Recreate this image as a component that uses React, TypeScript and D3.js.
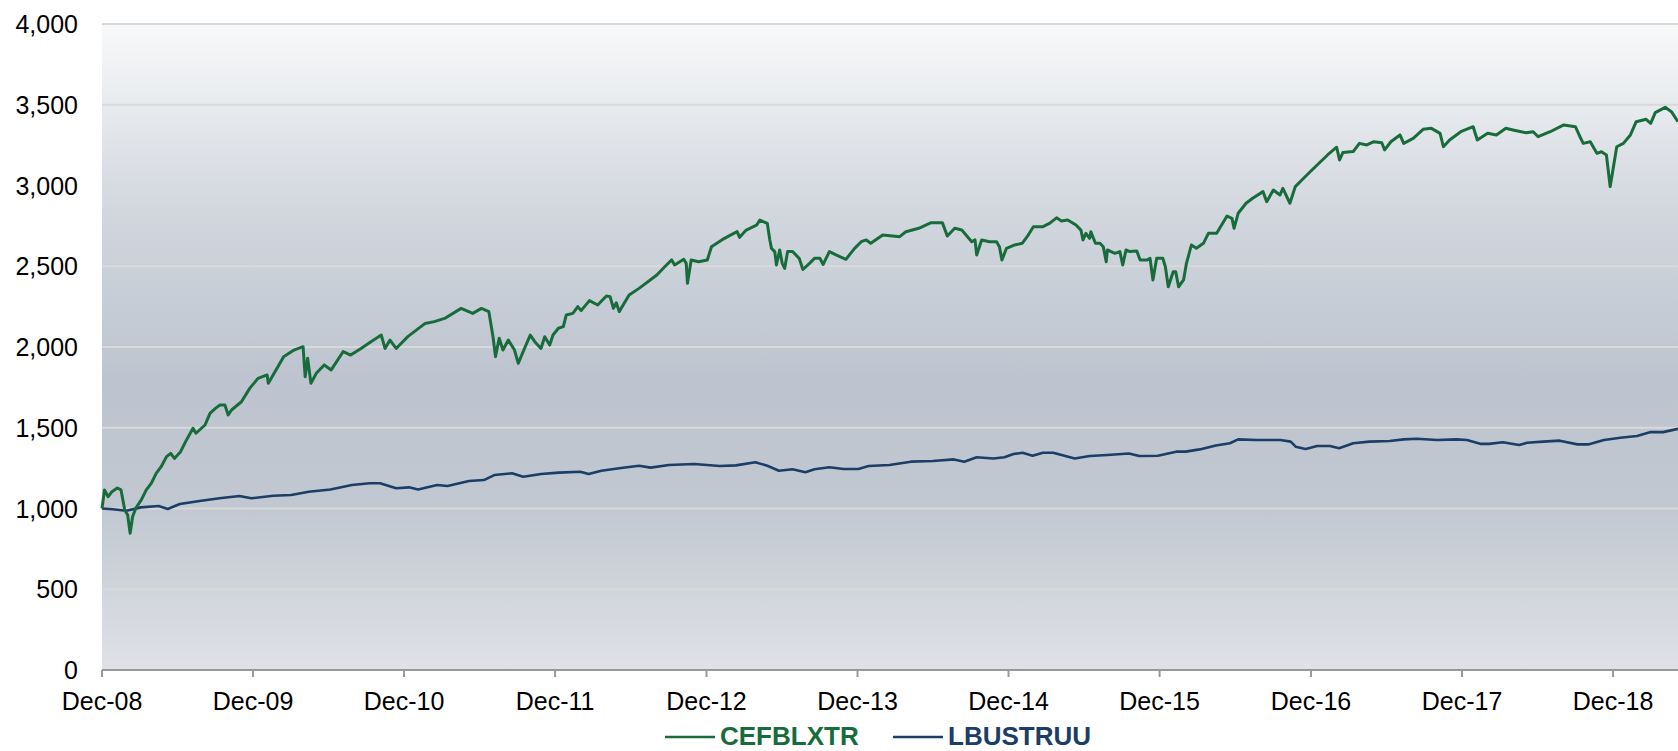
import React, { useEffect, useRef } from "react";
import * as d3 from "d3";

// CEFBLXTR (closed-end fund index), rebased to 1,000 at Dec-08
const cefDates = [
  "2008-12-31", "2009-01-06", "2009-01-15", "2009-01-24", "2009-02-06", "2009-02-15", "2009-02-24",
  "2009-03-03", "2009-03-09", "2009-03-15", "2009-03-23", "2009-04-05", "2009-04-17", "2009-04-29",
  "2009-05-11", "2009-05-23", "2009-06-05", "2009-06-15", "2009-06-24", "2009-07-09", "2009-07-21",
  "2009-08-08", "2009-08-15", "2009-09-06", "2009-09-18", "2009-10-01", "2009-10-12", "2009-10-24",
  "2009-11-01", "2009-11-09", "2009-12-03", "2009-12-23", "2010-01-12", "2010-02-03", "2010-02-06",
  "2010-02-27", "2010-03-15", "2010-04-09", "2010-05-01", "2010-05-06", "2010-05-12", "2010-05-20",
  "2010-06-02", "2010-06-21", "2010-07-08", "2010-08-06", "2010-08-24", "2010-09-18", "2010-10-12",
  "2010-11-06", "2010-11-15", "2010-11-27", "2010-12-12", "2011-01-09", "2011-02-20", "2011-03-14",
  "2011-04-08", "2011-05-18", "2011-06-15", "2011-07-06", "2011-07-24", "2011-08-03", "2011-08-09",
  "2011-08-18", "2011-08-27", "2011-09-09", "2011-09-24", "2011-10-03", "2011-10-15", "2011-11-01",
  "2011-11-12", "2011-11-27", "2011-12-06", "2011-12-18", "2011-12-26", "2012-01-08", "2012-01-20",
  "2012-01-27", "2012-02-12", "2012-02-24", "2012-03-03", "2012-03-23", "2012-04-12", "2012-05-03",
  "2012-05-12", "2012-05-20", "2012-05-27", "2012-06-03", "2012-06-27", "2012-07-21", "2012-09-02",
  "2012-09-21", "2012-10-08", "2012-10-15", "2012-11-06", "2012-11-12", "2012-11-15", "2012-11-24",
  "2012-12-12", "2013-01-02", "2013-01-12", "2013-02-06", "2013-02-27", "2013-03-15", "2013-03-21",
  "2013-04-06", "2013-05-01", "2013-05-09", "2013-05-27", "2013-06-02", "2013-06-06", "2013-06-14",
  "2013-06-18", "2013-06-26", "2013-07-02", "2013-07-08", "2013-07-15", "2013-07-27", "2013-08-12",
  "2013-08-21", "2013-09-06", "2013-09-18", "2013-10-01", "2013-10-09", "2013-10-24", "2013-11-09",
  "2013-12-03", "2013-12-24", "2014-01-09", "2014-01-21", "2014-02-01", "2014-03-02", "2014-04-12",
  "2014-04-27", "2014-05-28", "2014-06-27", "2014-07-24", "2014-08-05", "2014-08-23", "2014-09-09",
  "2014-10-03", "2014-10-11", "2014-10-15", "2014-10-27", "2014-11-15", "2014-12-02", "2014-12-09",
  "2014-12-15", "2014-12-26", "2015-01-15", "2015-02-02", "2015-02-14", "2015-03-01", "2015-03-24",
  "2015-04-09", "2015-04-26", "2015-05-08", "2015-05-23", "2015-06-12", "2015-06-24", "2015-06-29",
  "2015-07-06", "2015-07-15", "2015-07-18", "2015-07-29", "2015-08-09", "2015-08-17", "2015-08-24",
  "2015-08-27", "2015-09-14", "2015-09-26", "2015-10-03", "2015-10-11", "2015-10-20", "2015-11-06",
  "2015-11-14", "2015-12-01", "2015-12-08", "2015-12-15", "2015-12-24", "2016-01-08", "2016-01-14",
  "2016-01-21", "2016-02-02", "2016-02-08", "2016-02-15", "2016-02-27", "2016-03-05", "2016-03-17",
  "2016-03-29", "2016-04-15", "2016-04-27", "2016-05-17", "2016-06-11", "2016-06-23", "2016-06-28",
  "2016-07-08", "2016-07-27", "2016-08-12", "2016-09-06", "2016-09-15", "2016-10-01", "2016-10-17",
  "2016-10-24", "2016-11-10", "2016-11-23", "2016-12-09", "2016-12-29", "2017-01-23", "2017-02-09",
  "2017-03-03", "2017-03-10", "2017-03-18", "2017-04-12", "2017-04-27", "2017-05-15", "2017-06-01",
  "2017-06-20", "2017-06-27", "2017-07-12", "2017-08-03", "2017-08-12", "2017-09-04", "2017-09-28",
  "2017-10-18", "2017-11-08", "2017-11-16", "2017-12-01", "2017-12-28", "2018-01-27", "2018-02-06",
  "2018-03-03", "2018-03-24", "2018-04-16", "2018-05-03", "2018-06-04", "2018-06-21", "2018-07-03",
  "2018-08-01", "2018-09-03", "2018-10-01", "2018-10-12", "2018-10-20", "2018-11-06", "2018-11-22",
  "2018-12-03", "2018-12-15", "2018-12-24", "2019-01-09", "2019-01-25", "2019-02-11", "2019-02-25",
  "2019-03-21", "2019-04-01", "2019-04-12", "2019-05-06", "2019-05-21", "2019-06-06",
];
const cefValues = [
  1000, 1115, 1073, 1104, 1127, 1115, 991,
  960, 847, 950, 1003, 1053, 1115, 1156,
  1218, 1259, 1321, 1341, 1310, 1352, 1414,
  1497, 1466, 1517, 1589, 1620, 1641, 1641,
  1579, 1610, 1661, 1744, 1806, 1827, 1775,
  1868, 1940, 1981, 2002, 1816, 1930, 1775,
  1837, 1889, 1858, 1972, 1950, 1991, 2033,
  2074, 1991, 2043, 1991, 2064, 2146, 2157,
  2177, 2239, 2208, 2239, 2219, 2064, 1940,
  2054, 1981, 2043, 1981, 1899, 1972, 2074,
  2033, 1991, 2064, 2012, 2074, 2116, 2126,
  2198, 2208, 2250, 2225, 2287, 2260, 2316,
  2312, 2239, 2274, 2219, 2322, 2363, 2446,
  2497, 2539, 2508, 2543, 2518, 2394, 2539,
  2528, 2539, 2621, 2663, 2693, 2714, 2679,
  2724, 2755, 2786, 2765, 2663, 2611, 2591,
  2508, 2601, 2518, 2487, 2591, 2591, 2549,
  2480, 2518, 2549, 2549, 2511, 2591, 2570,
  2543, 2611, 2652, 2663, 2642, 2693, 2683,
  2714, 2735, 2770, 2770, 2687, 2735, 2724,
  2652, 2663, 2570, 2663, 2652, 2652, 2621,
  2539, 2611, 2632, 2642, 2683, 2745, 2745,
  2765, 2800, 2780, 2786, 2755, 2724, 2663,
  2704, 2673, 2714, 2642, 2642, 2621, 2528,
  2601, 2580, 2591, 2508, 2601, 2591, 2594,
  2539, 2539, 2549, 2415, 2549, 2549, 2497,
  2373, 2466, 2466, 2373, 2415, 2518, 2632,
  2611, 2642, 2704, 2704, 2811, 2797, 2735,
  2828, 2890, 2921, 2962, 2900, 2972, 2941,
  2982, 2890, 2993, 3034, 3085, 3147, 3189,
  3237, 3158, 3204, 3210, 3261, 3251, 3271,
  3265, 3220, 3271, 3313, 3261, 3292, 3348,
  3354, 3323, 3240, 3282, 3333, 3364, 3282,
  3323, 3313, 3354, 3344, 3327, 3333, 3302,
  3333, 3375, 3364, 3302, 3261, 3271, 3199,
  3209, 3189, 2993, 3240, 3261, 3313, 3395,
  3410, 3385, 3451, 3484, 3457, 3395,
];

// LBUSTRUU (US aggregate bond index), rebased to 1,000 at Dec-08
const lbuDates = [
  "2008-12-31", "2009-01-26", "2009-02-28", "2009-04-04", "2009-05-17", "2009-06-08", "2009-07-07",
  "2009-08-28", "2009-10-11", "2009-11-28", "2009-12-27", "2010-02-18", "2010-04-02", "2010-05-15",
  "2010-07-06", "2010-08-27", "2010-10-09", "2010-11-03", "2010-12-12", "2011-01-12", "2011-02-03",
  "2011-03-21", "2011-04-15", "2011-06-06", "2011-07-12", "2011-08-06", "2011-09-18", "2011-10-15",
  "2011-11-27", "2012-01-09", "2012-03-01", "2012-03-21", "2012-04-21", "2012-06-03", "2012-07-21",
  "2012-08-18", "2012-10-01", "2012-12-01", "2013-02-01", "2013-03-12", "2013-04-28", "2013-05-27",
  "2013-06-24", "2013-07-27", "2013-08-27", "2013-09-18", "2013-10-24", "2013-11-27", "2014-01-02",
  "2014-01-27", "2014-03-18", "2014-05-09", "2014-07-01", "2014-08-21", "2014-09-15", "2014-10-15",
  "2014-11-24", "2014-12-21", "2015-01-12", "2015-02-03", "2015-02-27", "2015-03-24", "2015-04-18",
  "2015-05-15", "2015-06-09", "2015-07-15", "2015-08-27", "2015-10-18", "2015-11-12", "2015-12-27",
  "2016-02-09", "2016-03-03", "2016-04-06", "2016-05-15", "2016-06-18", "2016-07-08", "2016-08-21",
  "2016-09-24", "2016-10-18", "2016-11-12", "2016-11-24", "2016-12-18", "2017-01-15", "2017-02-15",
  "2017-03-09", "2017-04-12", "2017-05-21", "2017-07-09", "2017-08-12", "2017-09-12", "2017-11-01",
  "2017-12-18", "2018-01-12", "2018-02-15", "2018-03-06", "2018-04-09", "2018-05-18", "2018-06-06",
  "2018-07-15", "2018-08-24", "2018-10-06", "2018-11-01", "2018-12-09", "2019-01-18", "2019-02-27",
  "2019-04-01", "2019-05-01", "2019-06-06",
];
const lbuValues = [
  1000, 995, 986, 1007, 1015, 997, 1028,
  1048, 1063, 1077, 1063, 1079, 1084, 1104,
  1118, 1146, 1156, 1156, 1125, 1131, 1118,
  1146, 1139, 1170, 1176, 1207, 1218, 1197,
  1214, 1222, 1228, 1214, 1234, 1249, 1265,
  1253, 1269, 1276, 1263, 1267, 1286, 1265,
  1234, 1243, 1224, 1243, 1255, 1245, 1245,
  1263, 1269, 1290, 1294, 1304, 1290, 1317,
  1310, 1317, 1337, 1345, 1327, 1345, 1345,
  1327, 1310, 1325, 1331, 1341, 1325, 1327,
  1352, 1352, 1366, 1390, 1404, 1428, 1424,
  1424, 1424, 1414, 1383, 1369, 1387, 1387,
  1373, 1404, 1414, 1418, 1428, 1432, 1424,
  1428, 1424, 1400, 1400, 1410, 1393, 1407,
  1414, 1420, 1397, 1397, 1424, 1438, 1449,
  1473, 1473, 1493,
];

const seriesNames = ["CEFBLXTR", "LBUSTRUU"];
const seriesColors = ["#186c3c", "#1b3d66"];
const yTicks = [0, 500, 1000, 1500, 2000, 2500, 3000, 3500, 4000];
const xTickDates = [
  "2008-12-31", "2009-12-31", "2010-12-31", "2011-12-31", "2012-12-31", "2013-12-31",
  "2014-12-31", "2015-12-31", "2016-12-31", "2017-12-31", "2018-12-31",
];

const W = 1678;
const H = 751;
const FONT = "'Liberation Sans', Arial, sans-serif";

const App = () => {
  const ref = useRef<SVGSVGElement>(null);

  useEffect(() => {
    const parse = d3.timeParse("%Y-%m-%d");
    const cef = cefDates.map((d, i) => ({ date: parse(d) as Date, value: cefValues[i] }));
    const lbu = lbuDates.map((d, i) => ({ date: parse(d) as Date, value: lbuValues[i] }));
    const ticks = xTickDates.map((d) => parse(d) as Date);

    const left = 102, right = W, top = 24, bottom = 670;

    const svg = d3.select(ref.current);
    svg.selectAll("*").remove();

    const x = d3
      .scaleTime()
      .domain([ticks[0], cef[cef.length - 1].date])
      .range([left, right]);
    const y = d3.scaleLinear().domain([0, 4000]).range([bottom, top]);

    // plot background gradient
    const grad = svg
      .append("defs")
      .append("linearGradient")
      .attr("id", "bg")
      .attr("x1", 0).attr("y1", 0).attr("x2", 0).attr("y2", 1);
    [
      ["0%", "#f8f9fa"],
      ["28%", "#d3d8df"],
      ["55%", "#bdc4cf"],
      ["75%", "#c1c8d1"],
      ["100%", "#dfe1e6"],
    ].forEach(([o, c]) => grad.append("stop").attr("offset", o).attr("stop-color", c));

    svg
      .append("rect")
      .attr("x", left)
      .attr("y", top)
      .attr("width", right - left)
      .attr("height", bottom - top)
      .attr("fill", "url(#bg)");

    // gridlines
    svg
      .append("g")
      .selectAll("line")
      .data(yTicks.filter((t) => t > 0))
      .join("line")
      .attr("x1", left)
      .attr("x2", right)
      .attr("y1", (d) => y(d))
      .attr("y2", (d) => y(d))
      .attr("stroke", "#d9d9d9")
      .attr("stroke-width", 2);

    // y labels
    svg
      .append("g")
      .selectAll("text")
      .data(yTicks)
      .join("text")
      .attr("x", 78)
      .attr("y", (d) => y(d))
      .attr("dy", "0.36em")
      .attr("text-anchor", "end")
      .attr("font-family", FONT)
      .attr("font-size", 25)
      .attr("fill", "#000")
      .text((d) => d3.format(",")(d));

    // lines
    const line = d3
      .line<{ date: Date; value: number }>()
      .x((d) => x(d.date))
      .y((d) => y(d.value));

    svg
      .append("path")
      .datum(lbu)
      .attr("fill", "none")
      .attr("stroke", seriesColors[1])
      .attr("stroke-width", 2.6)
      .attr("stroke-linejoin", "round")
      .attr("d", line);

    svg
      .append("path")
      .datum(cef)
      .attr("fill", "none")
      .attr("stroke", seriesColors[0])
      .attr("stroke-width", 3)
      .attr("stroke-linejoin", "round")
      .attr("d", line);

    // x axis
    svg
      .append("line")
      .attr("x1", left)
      .attr("x2", right)
      .attr("y1", bottom)
      .attr("y2", bottom)
      .attr("stroke", "#999")
      .attr("stroke-width", 2);

    const xt = svg.append("g").selectAll("g").data(ticks).join("g");
    xt.append("line")
      .attr("x1", (d) => x(d))
      .attr("x2", (d) => x(d))
      .attr("y1", bottom)
      .attr("y2", bottom + 7)
      .attr("stroke", "#999")
      .attr("stroke-width", 2);
    xt.append("text")
      .attr("x", (d) => x(d))
      .attr("y", 710)
      .attr("text-anchor", "middle")
      .attr("font-family", FONT)
      .attr("font-size", 25)
      .attr("fill", "#000")
      .text((d) => d3.timeFormat("%b-%y")(d));

    // legend
    const legendX = [665, 893];
    seriesNames.forEach((name, i) => {
      const g = svg.append("g");
      g.append("line")
        .attr("x1", legendX[i])
        .attr("x2", legendX[i] + 50)
        .attr("y1", 737)
        .attr("y2", 737)
        .attr("stroke", seriesColors[i])
        .attr("stroke-width", 2.5);
      g.append("text")
        .attr("x", legendX[i] + 55)
        .attr("y", 745)
        .attr("font-family", FONT)
        .attr("font-size", 26)
        .attr("font-weight", "bold")
        .attr("fill", seriesColors[i])
        .text(name);
    });
  }, []);

  return (
    <svg
      ref={ref}
      width={W}
      height={H}
      style={{ position: "absolute", left: 0, top: 0, background: "#fff" }}
    />
  );
};

export default App;
